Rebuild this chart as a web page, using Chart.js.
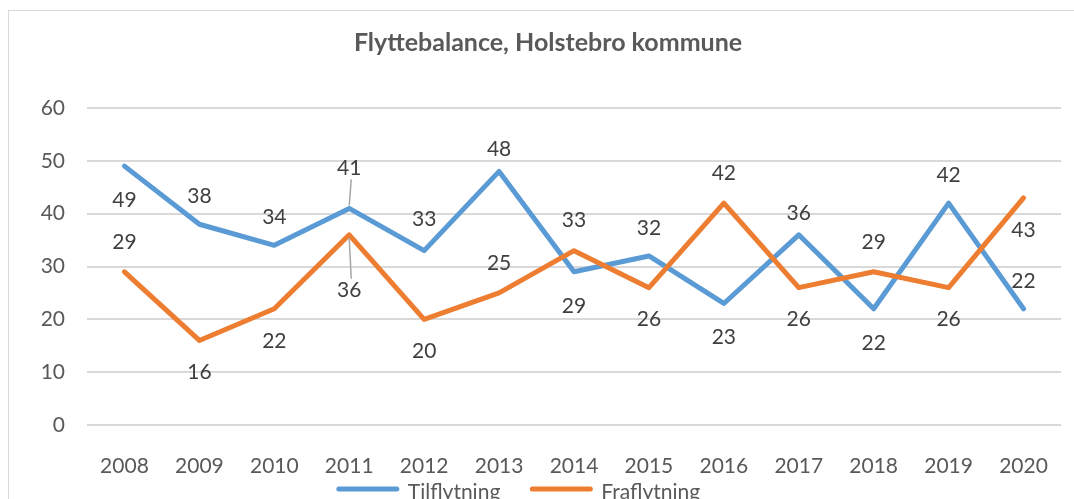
<!DOCTYPE html>
<html>
<head>
<meta charset="utf-8">
<script src="https://cdn.jsdelivr.net/npm/chart.js@4"></script>
<style>
  html, body { margin: 0; padding: 0; background: #fff; overflow: hidden; }
  #frame { position: absolute; left: 8px; top: 10px; width: 1100px; height: 540px; border: 1px solid #d9d9d9; }
  #wrap { position: absolute; left: 0; top: 0; width: 1096px; height: 504px; }
</style>
</head>
<body>
<div id="frame"><div id="wrap"><canvas id="myChart"></canvas></div></div>
<script>
var years = ["2008", "2009", "2010", "2011", "2012", "2013", "2014", "2015", "2016", "2017", "2018", "2019", "2020"];
var tilflytning = [49, 38, 34, 41, 33, 48, 29, 32, 23, 36, 22, 42, 22];
var fraflytning = [29, 16, 22, 36, 20, 25, 33, 26, 42, 26, 29, 26, 43];
// where each value label sits relative to its point, and how far away
var tilPos = ["below", "above", "above", "above", "above", "above", "below", "above", "below", "above", "below", "above", "above"];
var fraPos = ["above", "below", "below", "below", "below", "above", "above", "below", "above", "below", "above", "below", "below"];
var tilGap = [34, 28, 28, 40, 31, 22, 34, 28, 34, 22, 34, 28, 28];
var fraGap = [30, 32, 32, 55, 32, 30, 30, 32, 30, 32, 30, 32, 32];

var FONT = "Lato, 'Open Sans', sans-serif";

var valueLabels = {
  id: "valueLabels",
  afterDatasetsDraw: function (chart) {
    var ctx = chart.ctx;
    ctx.save();
    ctx.font = "21px " + FONT;
    ctx.textAlign = "center";
    ctx.textBaseline = "middle";
    chart.data.datasets.forEach(function (ds, i) {
      var meta = chart.getDatasetMeta(i);
      meta.data.forEach(function (pt, j) {
        var dir = ds.labelPos[j] === "above" ? -1 : 1;
        var gap = ds.labelGap[j];
        if (gap > 34) {
          ctx.strokeStyle = "#a6a6a6";
          ctx.lineWidth = 1.5;
          ctx.beginPath();
          ctx.moveTo(pt.x, pt.y + dir * 3);
          ctx.lineTo(pt.x + 2, pt.y + dir * (gap - 11));
          ctx.stroke();
        }
        ctx.fillStyle = "#404040";
        ctx.fillText(ds.data[j], pt.x, pt.y + dir * gap);
      });
    });
    ctx.restore();
  }
};

// legend drawn under the axis labels, line swatch + name
var bottomLegend = {
  id: "bottomLegend",
  afterDraw: function (chart) {
    var ctx = chart.ctx;
    var sw = 64, gap = 8, space = 29;
    ctx.save();
    ctx.font = "21px " + FONT;
    var items = chart.data.datasets;
    var total = 0;
    items.forEach(function (ds, i) {
      total += sw + gap + ctx.measureText(ds.label).width + (i < items.length - 1 ? space : 0);
    });
    var x = chart.width / 2 - 39 - total / 2;
    var y = chart.chartArea.bottom + 67;
    items.forEach(function (ds) {
      ctx.strokeStyle = ds.borderColor;
      ctx.lineWidth = 5;
      ctx.lineCap = "round";
      ctx.beginPath();
      ctx.moveTo(x + 3, y - 3);
      ctx.lineTo(x + sw - 3, y - 3);
      ctx.stroke();
      x += sw + gap;
      ctx.fillStyle = "#595959";
      ctx.textAlign = "left";
      ctx.textBaseline = "middle";
      ctx.fillText(ds.label, x, y);
      x += ctx.measureText(ds.label).width + space;
    });
    ctx.restore();
  }
};

new Chart("myChart", {
  type: "line",
  data: {
    labels: years,
    datasets: [{
      label: "Tilflytning",
      data: tilflytning,
      labelPos: tilPos,
      labelGap: tilGap,
      order: 1,
      borderColor: "#5B9BD5",
      backgroundColor: "#5B9BD5",
      borderWidth: 5,
      borderCapStyle: "round",
      borderJoinStyle: "round",
      pointRadius: 0,
      fill: false,
      tension: 0
    }, {
      label: "Fraflytning",
      data: fraflytning,
      labelPos: fraPos,
      labelGap: fraGap,
      order: 0,
      borderColor: "#ED7D31",
      backgroundColor: "#ED7D31",
      borderWidth: 5,
      borderCapStyle: "round",
      borderJoinStyle: "round",
      pointRadius: 0,
      fill: false,
      tension: 0
    }]
  },
  options: {
    responsive: true,
    maintainAspectRatio: false,
    animation: false,
    layout: { padding: { left: 26, right: 44, top: 0, bottom: 30 } },
    plugins: {
      title: {
        display: true,
        text: "Flyttebalance, Holstebro kommune",
        color: "#595959",
        font: { family: FONT, size: 25, weight: "bold" },
        padding: { top: 17, bottom: 50 }
      },
      legend: { display: false },
      tooltip: { enabled: false }
    },
    scales: {
      x: {
        offset: true,
        grid: { display: false },
        border: { display: false },
        ticks: { color: "#595959", font: { family: FONT, size: 21 }, padding: 21 },
        afterFit: function (scale) { scale.height = 60; }
      },
      y: {
        min: 0,
        max: 60,
        ticks: { stepSize: 10, color: "#595959", font: { family: FONT, size: 21 }, padding: 22 },
        grid: { color: "#d9d9d9", lineWidth: 2, drawTicks: false },
        border: { display: false },
        afterFit: function (scale) { scale.width = 52; }
      }
    }
  },
  plugins: [valueLabels, bottomLegend]
});
</script>
</body>
</html>
